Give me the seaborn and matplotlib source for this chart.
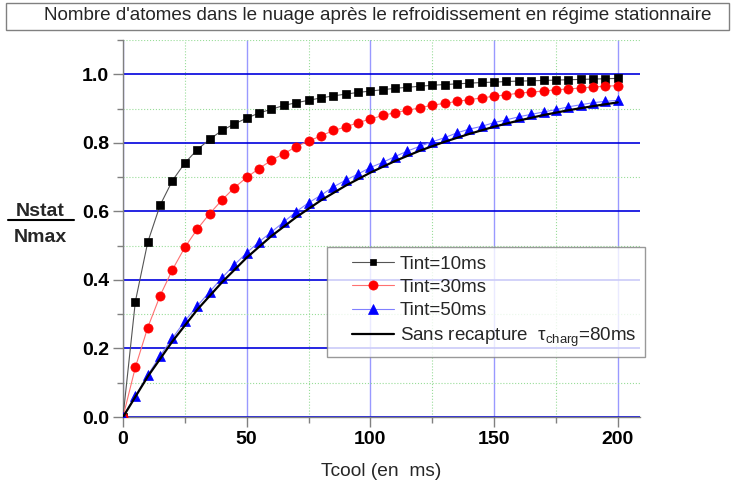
import matplotlib
matplotlib.use('Agg')
import matplotlib.pyplot as plt
import seaborn as sns
import pandas as pd
from matplotlib.patches import Rectangle
from matplotlib.lines import Line2D
from matplotlib.legend_handler import HandlerLine2D
from matplotlib.ticker import MultipleLocator

# ---- data ----
t_cool = list(range(0, 205, 5))
n_tint10 = [0.0, 0.337, 0.51, 0.618, 0.69, 0.741, 0.78, 0.81, 0.836, 0.855, 0.872,
            0.887, 0.898, 0.909, 0.917, 0.924, 0.931, 0.937, 0.942, 0.947, 0.951,
            0.955, 0.959, 0.962, 0.965, 0.968, 0.970, 0.972, 0.974, 0.976, 0.977,
            0.979, 0.980, 0.981, 0.982, 0.983, 0.984, 0.985, 0.986, 0.987, 0.988]
n_tint30 = [0.0, 0.145, 0.261, 0.354, 0.43, 0.495, 0.548, 0.593, 0.633, 0.669, 0.699,
            0.725, 0.749, 0.768, 0.789, 0.805, 0.820, 0.836, 0.846, 0.859, 0.869,
            0.880, 0.888, 0.895, 0.902, 0.910, 0.915, 0.921, 0.926, 0.931, 0.936,
            0.940, 0.945, 0.948, 0.951, 0.955, 0.957, 0.960, 0.963, 0.965, 0.967]
n_tint50 = [0.0, 0.062, 0.122, 0.179, 0.230, 0.280, 0.324, 0.365, 0.406, 0.444, 0.479,
            0.511, 0.540, 0.569, 0.599, 0.625, 0.647, 0.671, 0.691, 0.709, 0.728,
            0.743, 0.760, 0.776, 0.790, 0.803, 0.815, 0.829, 0.840, 0.848, 0.859,
            0.867, 0.876, 0.883, 0.890, 0.897, 0.905, 0.911, 0.917, 0.921, 0.924]
t_line = list(range(0, 205, 10))
n_sans = [0.0, 0.118, 0.221, 0.313, 0.393, 0.465, 0.528, 0.583, 0.632, 0.675, 0.713,
          0.747, 0.777, 0.803, 0.826, 0.847, 0.865, 0.881, 0.895, 0.907, 0.918]

labels = ['Tint=10ms', 'Tint=30ms', 'Tint=50ms']
label_sans = r'Sans recapture  $\mathrm{τ}_{\mathrm{charg}}$=80ms'
x_ticks = [0, 50, 100, 150, 200]
y_ticks = [0.0, 0.2, 0.4, 0.6, 0.8, 1.0]

sns.set_theme(style='white')
plt.rcParams['font.family'] = ['Liberation Sans', 'DejaVu Sans']
plt.rcParams['mathtext.fontset'] = 'custom'
plt.rcParams['mathtext.rm'] = 'Liberation Sans'
plt.rcParams['mathtext.it'] = 'Liberation Sans:italic'
plt.rcParams['mathtext.bf'] = 'Liberation Sans:bold'

fig = plt.figure(figsize=(7.32, 4.92), dpi=100)
ax = fig.add_axes([123 / 732, 75 / 492, 517 / 732, 377 / 492])

df = pd.DataFrame({'t': t_cool, 'a': n_tint10, 'b': n_tint30, 'c': n_tint50})
dfl = pd.DataFrame({'t': t_line, 'n': n_sans})

sns.lineplot(data=df, x='t', y='a', ax=ax, color='#555555', lw=0.8, marker='s',
             markersize=5.8, markerfacecolor='black', markeredgecolor='black',
             markeredgewidth=0.5, label=labels[0], zorder=4)
sns.lineplot(data=df, x='t', y='b', ax=ax, color='#ff7070', lw=0.8, marker='o',
             markersize=6.6, markerfacecolor='#ff0000', markeredgecolor='#ff0000',
             markeredgewidth=0.5, label=labels[1], zorder=4)
sns.lineplot(data=df, x='t', y='c', ax=ax, color='#8080ff', lw=0.8, marker='^',
             markersize=7.0, markerfacecolor='#0000ff', markeredgecolor='#0000ff',
             markeredgewidth=0.5, label=labels[2], zorder=4)
sns.lineplot(data=dfl, x='t', y='n', ax=ax, color='black', lw=1.6,
             label=label_sans, zorder=5)

ax.set_xlim(0, 209)
ax.set_ylim(0, 1.1)
ax.xaxis.set_minor_locator(MultipleLocator(25))
ax.yaxis.set_minor_locator(MultipleLocator(0.1))
ax.set_xticks(x_ticks)
ax.set_yticks(y_ticks)
ax.set_xticklabels([str(v) for v in x_ticks], fontweight='bold', fontsize=14)
ax.set_yticklabels(['%.1f' % v for v in y_ticks], fontweight='bold', fontsize=14)

ax.set_axisbelow(True)
ax.yaxis.grid(True, which='major', color='#0000dd', lw=1.2)
ax.xaxis.grid(True, which='major', color='#9999ff', lw=1.0)
ax.grid(True, which='minor', color='#99dd99', ls=':', lw=0.8)

for s in ['top', 'right']:
    ax.spines[s].set_visible(False)
for s in ['left', 'bottom']:
    ax.spines[s].set_color('#808080')
    ax.spines[s].set_linewidth(1.0)
ax.tick_params(which='major', direction='out', length=7, width=1, color='#808080',
               left=True, bottom=True, pad=3, labelcolor='black')
ax.tick_params(which='minor', direction='out', length=4, width=1, color='#808080',
               left=True, bottom=True)

ax.set_xlabel('Tcool (en  ms)', fontsize=13.8, labelpad=11)
ax.set_ylabel('')

# y label as a fraction
fig.text(40 / 732, 1 - 211 / 492, 'Nstat', fontsize=14, fontweight='bold',
         ha='center', va='center')
fig.text(40 / 732, 1 - 237 / 492, 'Nmax', fontsize=14, fontweight='bold',
         ha='center', va='center')
fig.add_artist(Line2D([8 / 732, 74 / 732], [1 - 220 / 492, 1 - 220 / 492],
                      color='black', lw=1.5, transform=fig.transFigure))

# title box
fig.add_artist(Rectangle((6 / 732, 1 - 30 / 492), 723 / 732, 27 / 492,
                         transform=fig.transFigure, fc='white', ec='#808080', lw=1))
fig.text(378 / 732, 1 - 16 / 492,
         "Nombre d'atomes dans le nuage après le refroidissement en régime stationnaire",
         fontsize=13.6, ha='center', va='center')

# legend
h, l = ax.get_legend_handles_labels()
order = labels + [label_sans]
hh = [h[l.index(o)] for o in order]
hmap = {hdl: HandlerLine2D(xpad=0.85) for hdl in hh}
leg = ax.legend(hh, order, loc='upper left', bbox_to_anchor=(0.395, 0.451),
                borderaxespad=0, fontsize=13.5, frameon=True, fancybox=False,
                edgecolor='#808080', handlelength=3.09, handletextpad=0.32,
                labelspacing=0.33, borderpad=0.45, handler_map=hmap)
leg.get_frame().set_linewidth(1.0)
for lh in leg.legend_handles:
    if lh.get_marker() == 's':
        lh.set_markersize(5.0)

fig.savefig('out.png', dpi=100)
